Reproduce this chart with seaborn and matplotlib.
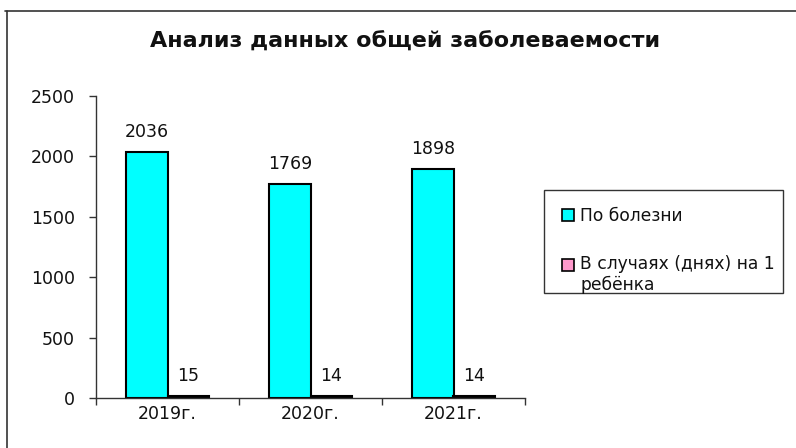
import matplotlib
matplotlib.use("Agg")
import matplotlib.pyplot as plt
import seaborn as sns
import pandas as pd
from matplotlib.lines import Line2D
from matplotlib.patches import Rectangle
from matplotlib.legend_handler import HandlerPatch

years = ["2019г.", "2020г.", "2021г."]
series_names = ["По болезни", "В случаях (днях) на 1\nребёнка"]
by_disease = [2036, 1769, 1898]
per_child = [15, 14, 14]
title = "Анализ данных общей заболеваемости"
yticks = [0, 500, 1000, 1500, 2000, 2500]

sns.set_theme(style="white")
plt.rcParams["font.family"] = ["DejaVu Sans"]

df = pd.DataFrame({
    "year": years * 2,
    "series": [series_names[0]] * 3 + [series_names[1]] * 3,
    "value": by_disease + per_child,
})

fig = plt.figure(figsize=(7.96, 4.48), dpi=100)
W, H = 796, 448
ax = fig.add_axes([96 / W, 1 - 398 / H, (525 - 96) / W, (398 - 96) / H])

palette = {series_names[0]: "#00FFFF", series_names[1]: "#FF99CC"}
sns.barplot(data=df, x="year", y="value", hue="series", palette=palette,
            width=0.575, edgecolor="black", linewidth=1.5, ax=ax,
            saturation=1, legend=False)

ax.set_ylim(0, 2500)
ax.set_xlim(-0.5, 2.5)
ax.set_yticks(yticks)
ax.set_yticklabels([str(v) for v in yticks], fontsize=12.5, color="#111111")
ax.set_xticks(range(3))
ax.set_xticklabels(years, fontsize=12.5, color="#111111")
ax.set_xticks([-0.5, 0.5, 1.5, 2.5], minor=True)
ax.tick_params(axis="x", which="major", length=0, pad=5)
ax.tick_params(axis="x", which="minor", length=5, width=1, color="#333333", bottom=True)
ax.tick_params(axis="y", which="major", length=5, width=1, color="#333333", left=True, pad=10)
ax.set_xlabel("")
ax.set_ylabel("")
for s in ["top", "right"]:
    ax.spines[s].set_visible(False)
for s in ["left", "bottom"]:
    ax.spines[s].set_color("#333333")
    ax.spines[s].set_linewidth(1)

for cont in ax.containers:
    ax.bar_label(cont, fmt="%d", padding=8, fontsize=12.5, color="#111111")

fig.text(405 / W, 1 - 42 / H, title, ha="center", va="center",
         fontsize=16, fontweight="bold", color="#111111")


class TopAlignedBox(HandlerPatch):
    def __init__(self, shift=0.0, **kw):
        super().__init__(**kw)
        self.shift = shift

    def create_artists(self, legend, orig_handle, xdescent, ydescent,
                       width, height, fontsize, trans):
        p = Rectangle((-xdescent, -ydescent + self.shift * fontsize), width, height,
                      facecolor=orig_handle.get_facecolor(),
                      edgecolor=orig_handle.get_edgecolor(),
                      linewidth=orig_handle.get_linewidth(), transform=trans)
        return [p]


handles = [plt.Rectangle((0, 0), 1, 1, facecolor=palette[n], edgecolor="black", linewidth=1.2)
           for n in series_names]
leg = fig.legend(handles, series_names, loc="upper left",
                 bbox_to_anchor=(557 / W, 1 - 202 / H), frameon=False,
                 fontsize=12.3, labelspacing=1.72, handlelength=0.7, handleheight=0.7,
                 handletextpad=0.35, borderpad=0.3, borderaxespad=0,
                 handler_map={handles[0]: TopAlignedBox(0.0),
                              handles[1]: TopAlignedBox(0.58)})
for t in leg.get_texts():
    t.set_color("#111111")

# legend frame box
fig.add_artist(Rectangle((544 / W, 1 - 293 / H), (783 - 544) / W, (293 - 190) / H,
                         transform=fig.transFigure, facecolor="none",
                         edgecolor="#333333", linewidth=1))

fig.add_artist(Line2D([5 / W, 1], [1 - 11 / H, 1 - 11 / H], color="#333333", lw=1.2))
fig.add_artist(Line2D([7 / W, 7 / W], [0, 1 - 11 / H], color="#333333", lw=1.2))

fig.savefig("out.png", dpi=100)
